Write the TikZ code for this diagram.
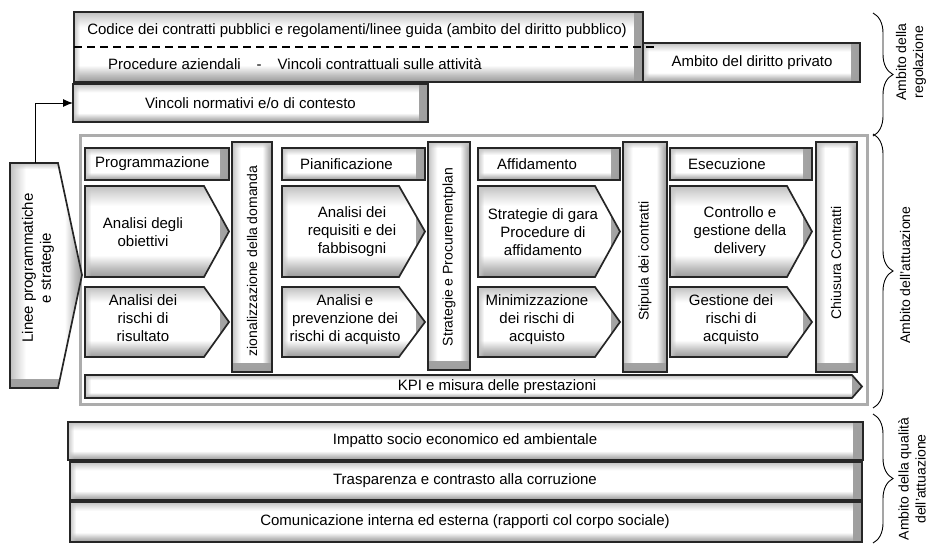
\documentclass[tikz,border=0pt]{standalone}
\usepackage{fontspec}
\setmainfont{Liberation Sans}
\usetikzlibrary{arrows.meta,decorations.pathreplacing,fadings}
\pgfdeclareverticalshading{bevelv}{100bp}{color(0bp)=(gray!80); color(25bp)=(gray!80); color(30bp)=(gray!50); color(37bp)=(white); color(64bp)=(white); color(71bp)=(gray!30); color(75bp)=(gray!50); color(100bp)=(gray!50)}
\tikzfading[name=fadeR, left color=transparent!100, right color=transparent!0]
\tikzfading[name=fadeL, left color=transparent!0, right color=transparent!100]
\tikzfading[name=fadeB, top color=transparent!100, bottom color=transparent!0]
\tikzfading[name=fadeT, top color=transparent!0, bottom color=transparent!100]
\tikzset{
  bev/.style={draw=black!85, line width=1.7pt, shade, shading=bevelv,
    path picture={
      \fill[gray!75, path fading=fadeR] ([xshift=-9pt]path picture bounding box.north east) rectangle (path picture bounding box.south east);
      \fill[gray!45, path fading=fadeL] (path picture bounding box.north west) rectangle ([xshift=6pt]path picture bounding box.south west);
    }},
  vbev/.style={draw=black!85, line width=1.7pt, shade, shading=bevelv, shading angle=90,
    path picture={
      \fill[gray!75, path fading=fadeB] ([yshift=9pt]path picture bounding box.south west) rectangle (path picture bounding box.south east);
      \fill[gray!45, path fading=fadeT] (path picture bounding box.north west) rectangle ([yshift=-6pt]path picture bounding box.north east);
    }},
  txt/.style={font=\fontsize{15}{18}\selectfont, align=center, inner sep=0pt},
  vtxt/.style={font=\fontsize{14}{17}\selectfont, align=center, inner sep=0pt, rotate=90},
  frame/.style={draw=gray!65, line width=3pt},
  dashline/.style={line width=1.2pt, dash pattern=on 8pt off 5pt},
  conn/.style={line width=1pt, -{Latex[length=10pt,width=8pt]}},
  bracestyle/.style={decorate, decoration={brace, amplitude=20pt, aspect=0.5}, line width=0.9pt},
}
\newcommand\mkbox[6][bev]{\node[#1, anchor=north west, minimum width={(#5-#3)*1pt}, minimum height={(#6-#4)*1pt}, inner sep=0pt, outer sep=0pt] (#2) at (#3,#4) {};}
\newcommand\mkarrow[6]{\path[bev] (#2,#3) -- ({#4-#6},#3) -- (#4,{(#3+#5)/2}) -- ({#4-#6},#5) -- (#2,#5) -- cycle;
  \coordinate (#1) at ({(#2+#4)/2},{(#3+#5)/2});}
\begin{document}
\begin{tikzpicture}[x=1pt,y=-1pt]
\useasboundingbox (0,0) rectangle (928,544);
% regulation area
\mkbox{codice}{74}{12}{643}{82}
\mkbox{privato}{643}{43}{860}{82}
\draw[dashline] (74,47) -- (657,47);
\node[txt] (tcodice) at (357,31) {Codice dei contratti pubblici e regolamenti/linee guida (ambito del diritto pubblico)};
\node[txt, anchor=west] (tproc) at (108,64) {Procedure aziendali\hspace{16pt}-\hspace{16pt}Vincoli contrattuali sulle attività};
\node[txt] (tpriv) at (752,63) {Ambito del diritto privato};
\mkbox{vincoli}{73}{84}{428}{122}
\node[txt] (tvinc) at (vincoli.center) {Vincoli normativi e/o di contesto};
% implementation frame
\draw[frame] (80,135) rectangle (867,404);
% Linee
\path[vbev] (10,163) -- (58,163) -- (82,275) -- (58,388) -- (10,388) -- cycle;
\coordinate (lineetop) at (35,163);
\node[txt, rotate=90] (tlinee) at (38,268) {Linee programmatiche\\e strategie};
\draw[conn] (lineetop) |- (vincoli.west);
% headers
\mkbox{hprog}{85}{148}{229}{180}
\mkbox{hpian}{282}{148}{425}{180}
\mkbox{haff}{478}{148}{620}{180}
\mkbox{hesec}{670}{148}{812}{180}
\node[txt, anchor=west] (tprog) at (95,164) {Programmazione};
\node[txt, anchor=west] (tpian) at (300,164) {Pianificazione};
\node[txt, anchor=west] (taff) at (497,164) {Affidamento};
\node[txt, anchor=west] (tesec) at (688,164) {Esecuzione};
% arrows
\mkarrow{a1}{85}{186}{229}{277}{25}
\mkarrow{b1}{85}{287}{229}{357}{25}
\mkarrow{a2}{282}{186}{425}{277}{26}
\mkarrow{b2}{282}{287}{425}{357}{26}
\mkarrow{a3}{478}{186}{620}{277}{25}
\mkarrow{b3}{478}{287}{620}{357}{25}
\mkarrow{a4}{670}{186}{812}{277}{25}
\mkarrow{b4}{670}{287}{812}{357}{25}
\node[txt] (ta1) at (143,232) {Analisi degli\\obiettivi};
\node[txt] (tb1) at (143,318) {Analisi dei\\rischi di\\risultato};
\node[txt] (ta2) at (352,232) {Analisi dei\\requisiti e dei\\fabbisogni};
\node[txt] (tb2) at (345,320) {Analisi e\\prevenzione dei\\rischi di acquisto};
\node[txt] (ta3) at (543,232) {Strategie di gara\\Procedure di\\affidamento};
\node[txt] (tb3) at (537,320) {Minimizzazione\\dei rischi di\\acquisto};
\node[txt] (ta4) at (740,232) {Controllo e\\gestione della\\delivery};
\node[txt] (tb4) at (731,320) {Gestione dei\\rischi di\\acquisto};
% vertical bars
\mkbox[vbev]{brz}{232}{142}{272}{372}
\mkbox[vbev]{bstr}{428}{142}{470}{370}
\mkbox[vbev]{bsti}{623}{142}{667}{372}
\mkbox[vbev]{bchi}{816}{142}{857}{372}
\node[vtxt] (tbrz) at (252,261) {zionalizzazione della domanda};
\node[vtxt] (tbstr) at (449,257) {Strategie e Procurementplan};
\node[vtxt] (tbsti) at (645,261) {Stipula dei contratti};
\node[vtxt] (tbchi) at (836,263) {Chiusura Contratti};
% KPI
\mkarrow{kpi}{85}{375}{862}{398}{10}
\node[txt] (tkpi) at (497,387) {KPI e misura delle prestazioni};
% quality boxes
\mkbox{imp}{68}{422}{863}{460}
\mkbox{tra}{70}{462}{862}{500}
\mkbox{com}{70}{502}{862}{542}
\node[txt] (timp) at (465,441) {Impatto socio economico ed ambientale};
\node[txt] (ttra) at (465,481) {Trasparenza e contrasto alla corruzione};
\node[txt] (tcom) at (465,522) {Comunicazione interna ed esterna (rapporti col corpo sociale)};
% braces
\coordinate (br1a) at (873,13); \coordinate (br1b) at (873,136);
\coordinate (br2a) at (873,134); \coordinate (br2b) at (873,408);
\coordinate (br3a) at (873,414); \coordinate (br3b) at (873,543);
\draw[bracestyle] (br1a) -- (br1b);
\draw[bracestyle] (br2a) -- (br2b);
\draw[bracestyle] (br3a) -- (br3b);
\node[vtxt] (lreg) at (911,62) {Ambito della\\regolazione};
\node[vtxt] (latt) at (905,275) {Ambito dell'attuazione};
\node[vtxt] (lqual) at (912,479) {Ambito della qualità\\dell'attuazione};
\end{tikzpicture}
\end{document}
